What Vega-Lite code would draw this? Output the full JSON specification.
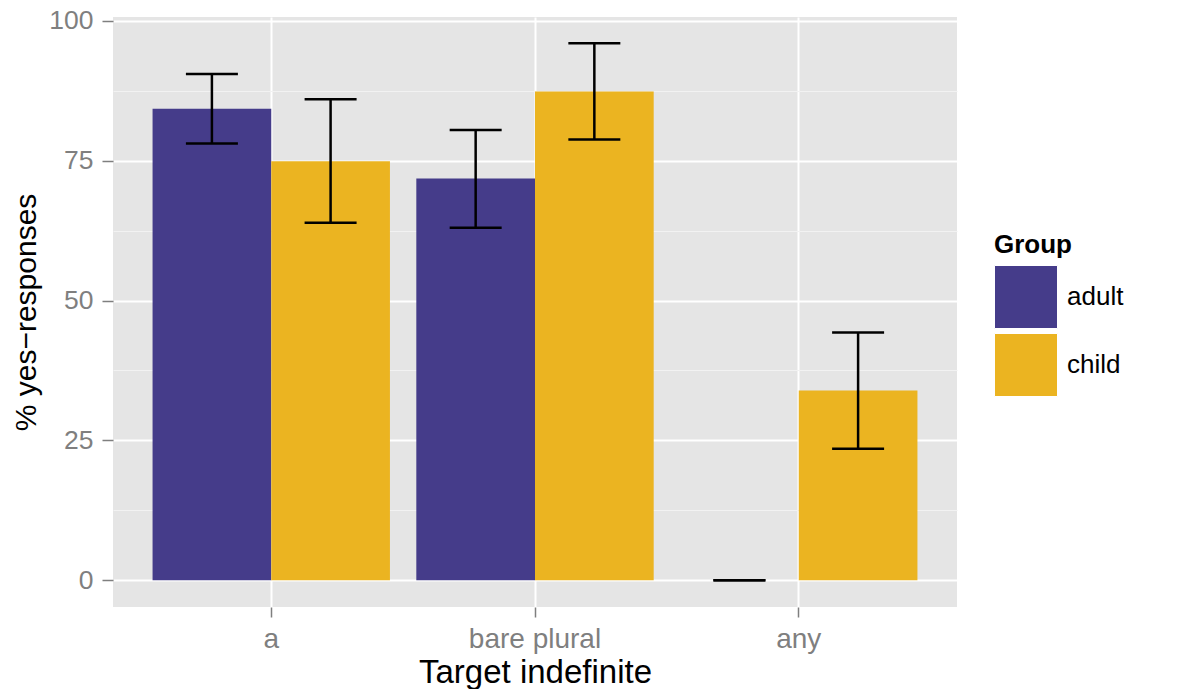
{
  "$schema": "https://vega.github.io/schema/vega-lite/v6.json",
  "width": 844,
  "height": 590,
  "autosize": {"type": "none"},
  "padding": {"left": 113, "top": 17, "right": 239, "bottom": 82},
  "background": "white",
  "data": {
    "values": [
      {"Target": "a", "Group": "adult", "pct": 84.3, "lo": 78.1, "hi": 90.5},
      {"Target": "a", "Group": "child", "pct": 74.9, "lo": 63.9, "hi": 86.0},
      {"Target": "bare plural", "Group": "adult", "pct": 71.8, "lo": 63.0, "hi": 80.5},
      {"Target": "bare plural", "Group": "child", "pct": 87.4, "lo": 78.8, "hi": 96.0},
      {"Target": "any", "Group": "adult", "pct": 0, "lo": 0, "hi": 0},
      {"Target": "any", "Group": "child", "pct": 33.9, "lo": 23.5, "hi": 44.3}
    ]
  },
  "encoding": {
    "x": {
      "field": "Target",
      "type": "nominal",
      "sort": ["a", "bare plural", "any"],
      "scale": {"paddingInner": 0.1, "paddingOuter": 0.15},
      "axis": {
        "title": "Target indefinite",
        "labelAngle": 0,
        "bandPosition": 0.5,
        "grid": true,
        "gridColor": "white",
        "gridWidth": 2,
        "tickSize": 10,
        "tickWidth": 1.5,
        "tickColor": "#7F7F7F",
        "labelFontSize": 28,
        "labelPadding": 8,
        "titleFontSize": 33,
        "titlePadding": 3
      }
    },
    "xOffset": {
      "field": "Group",
      "type": "nominal",
      "sort": ["adult", "child"],
      "scale": {"paddingInner": 0, "paddingOuter": 0}
    }
  },
  "layer": [
    {
      "mark": {"type": "bar"},
      "encoding": {
        "y": {
          "field": "pct",
          "type": "quantitative",
          "scale": {"domain": [-4.8, 100.7], "nice": false, "zero": false},
          "axis": {
            "title": "% yes−responses",
            "values": [0, 12.5, 25, 37.5, 50, 62.5, 75, 87.5, 100],
            "labelExpr": "datum.value % 25 === 0 ? datum.label : ''",
            "grid": true,
            "gridColor": {"condition": {"test": "datum.value % 25 === 0", "value": "white"}, "value": "#F2F2F2"},
            "gridWidth": {"condition": {"test": "datum.value % 25 === 0", "value": 2}, "value": 1.2},
            "tickOpacity": {"condition": {"test": "datum.value % 25 === 0", "value": 1}, "value": 0},
            "tickSize": 11,
            "tickWidth": 1.5,
            "tickColor": "#7F7F7F",
            "labelFontSize": 26.5,
            "labelPadding": 9,
            "titleFontSize": 30,
            "titlePadding": 7
          }
        },
        "y2": {"datum": 0},
        "color": {
          "field": "Group",
          "type": "nominal",
          "scale": {"domain": ["adult", "child"], "range": ["#453C8A", "#EBB421"]},
          "legend": {
            "title": "Group",
            "orient": "none",
            "legendX": 881,
            "legendY": 215,
            "padding": 0,
            "titleFontSize": 26,
            "titleFontWeight": "bold",
            "titleColor": "black",
            "titlePadding": 7,
            "labelFontSize": 26,
            "labelColor": "black",
            "symbolType": "square",
            "symbolSize": 3969,
            "symbolStrokeColor": "white",
            "symbolStrokeWidth": 1,
            "symbolOpacity": 1,
            "labelOffset": 9,
            "rowPadding": 0
          }
        }
      }
    },
    {
      "mark": {"type": "rule", "color": "black", "strokeWidth": 2.5},
      "encoding": {
        "y": {"field": "lo", "type": "quantitative"},
        "y2": {"field": "hi"}
      }
    },
    {
      "mark": {"type": "tick", "color": "black", "thickness": 2.5, "size": 52, "opacity": 1},
      "encoding": {
        "y": {"field": "hi", "type": "quantitative"}
      }
    },
    {
      "mark": {"type": "tick", "color": "black", "thickness": 2.5, "size": 52, "opacity": 1},
      "encoding": {
        "y": {"field": "lo", "type": "quantitative"}
      }
    }
  ],
  "config": {
    "font": "Liberation Sans",
    "view": {"fill": "#E5E5E5", "stroke": null},
    "axis": {
      "domain": false,
      "labelFont": "Liberation Sans",
      "labelColor": "#7F7F7F",
      "titleFont": "Liberation Sans",
      "titleFontWeight": "normal",
      "titleColor": "black"
    },
    "legend": {
      "labelFont": "Liberation Sans",
      "titleFont": "Liberation Sans"
    }
  }
}
